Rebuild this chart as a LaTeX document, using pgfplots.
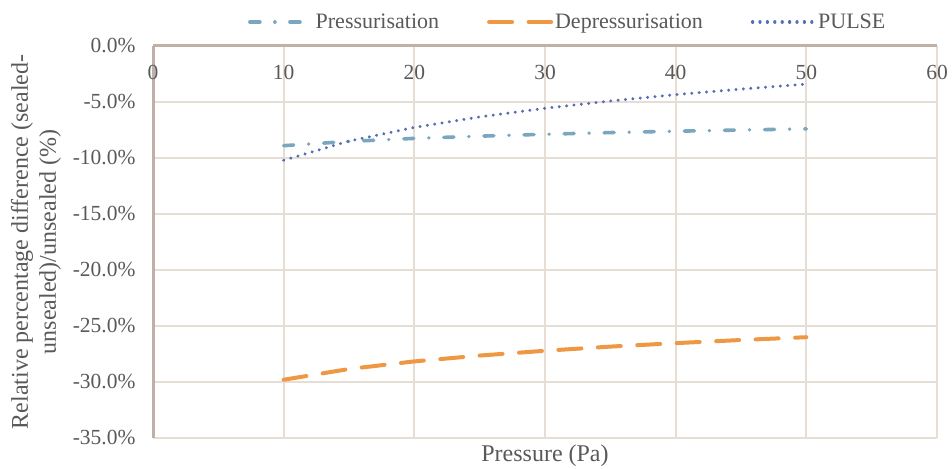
\documentclass[border=0pt]{standalone}
\usepackage{fontspec}
\setmainfont{Liberation Serif}
\usepackage{pgfplots}
\pgfplotsset{compat=1.18}
\definecolor{txt}{RGB}{89,89,89}
\definecolor{axl}{RGB}{191,176,168}
\definecolor{grd}{RGB}{230,221,213}
\definecolor{cP}{RGB}{122,166,190}
\definecolor{cD}{RGB}{238,152,68}
\definecolor{cU}{RGB}{88,108,180}
\begin{document}
\begin{tikzpicture}
\useasboundingbox (0,0) rectangle (952pt,468pt);
\begin{axis}[
  at={(153pt,30pt)}, anchor=south west,
  scale only axis, width=784pt, height=392pt,
  xmin=0, xmax=60, ymin=-35, ymax=0,
  xtick={0,10,...,60}, ytick={-35,-30,...,0},
  axis x line=top, axis y line=left,
  axis line style={draw=axl, line width=3pt, -},
  grid=major, major grid style={draw=grd, line width=2pt},
  major tick length=0pt, tick style={draw=none},
  /pgf/number format/assume math mode=true,
  ticklabel style={text=txt, font=\fontsize{21.5}{25}\selectfont},
  xticklabel style={anchor=north, yshift=-16pt},
  yticklabel={\pgfmathprintnumber[fixed,fixed zerofill,precision=1]{\tick}\%},
  yticklabel style={xshift=-14pt},
  xlabel={Pressure (Pa)},
  xlabel style={at={(axis description cs:0.5,0)}, anchor=north, yshift=-3.5pt, text=txt, font=\fontsize{24}{28}\selectfont},
  ylabel={Relative percentage difference (sealed-\\unsealed)/unsealed (\%)},
  ylabel style={align=center, text=txt, font=\fontsize{24}{28}\selectfont, yshift=5pt},
  legend columns=3,
  legend style={draw=none, fill=none, at={(0.529,1.0612)}, anchor=center,
    font=\fontsize{22}{26}\selectfont, text=txt,
    /tikz/every even column/.append style={column sep=46pt}},
  legend image code/.code={\draw[#1] (0pt,0pt) -- (62pt,0pt);},
]
\addplot[cP, line width=3.6pt, line cap=round, dash pattern=on 10pt off 15pt on 0.1pt off 15pt] coordinates {
 (10,-8.90) (15,-8.52) (20,-8.25) (25,-8.05) (30,-7.88) (35,-7.73) (40,-7.61) (45,-7.50) (50,-7.40)};
\addlegendentry{Pressurisation}
\addplot[cD, line width=4pt, line cap=round, dash pattern=on 23pt off 16.5pt] coordinates {
 (10,-29.80) (15,-28.84) (20,-28.16) (25,-27.64) (30,-27.21) (35,-26.84) (40,-26.53) (45,-26.25) (50,-26.00)};
\addlegendentry{Depressurisation}
\addplot[cU, line width=3.2pt, line cap=round, dash pattern=on 0.1pt off 7.3pt] coordinates {
 (10,-10.20) (15,-8.49) (20,-7.27) (25,-6.33) (30,-5.56) (35,-4.91) (40,-4.34) (45,-3.85) (50,-3.40)};
\addlegendentry{PULSE}
\end{axis}
\end{tikzpicture}
\end{document}
